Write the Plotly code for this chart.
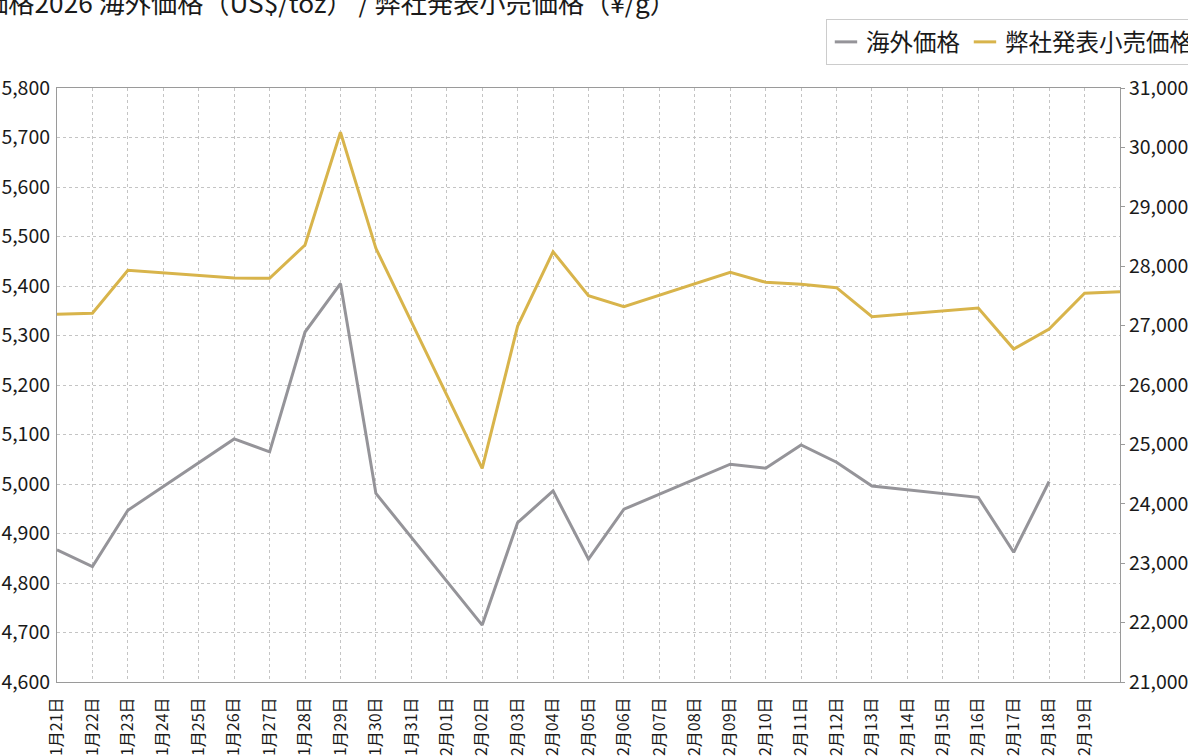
import plotly.graph_objects as go

# ---- data ----
dates = [
    "01月21日", "01月22日", "01月23日", "01月24日", "01月25日", "01月26日", "01月27日",
    "01月28日", "01月29日", "01月30日", "01月31日", "02月01日", "02月02日", "02月03日",
    "02月04日", "02月05日", "02月06日", "02月07日", "02月08日", "02月09日", "02月10日",
    "02月11日", "02月12日", "02月13日", "02月14日", "02月15日", "02月16日", "02月17日",
    "02月18日", "02月19日", "02月20日",
]
tick_labels = dates[:30]

# 海外価格 (US$/toz) - left axis
overseas = [
    4867, 4833, 4947, None, None, 5091, 5065,
    5307, 5405, 4981, None, None, 4715, 4922,
    4986, 4848, 4949, None, None, 5040, 5032,
    5079, 5044, 4996, None, None, 4973, 4862,
    5005, None, None,
]
# 弊社発表小売価格 (¥/g) - right axis
retail = [
    27190, 27207, 27931, None, None, 27801, 27796,
    28357, 30254, 28301, None, None, 24597, 26993,
    28244, 27504, 27318, None, None, 27897, 27729,
    27695, 27638, 27150, None, None, 27296, 26606,
    26943, 27544, 27571,
]

title_text = "金価格2026 海外価格（US$/toz） / 弊社発表小売価格（¥/g）"
name_overseas = "海外価格"
name_retail = "弊社発表小売価格"

FONT = "Noto Sans CJK JP"
GRAY = "#959499"
GOLD = "#d8b44b"
TXT = "#1a1a1a"

xpos = list(range(len(dates)))

fig = go.Figure()
fig.add_trace(go.Scatter(
    x=xpos, y=overseas, name=name_overseas, mode="lines", legendgroup="a",
    line=dict(color=GRAY, width=3), connectgaps=True, yaxis="y", showlegend=False,
    customdata=dates, hovertemplate="%{customdata}: %{y:,}<extra></extra>",
))
fig.add_trace(go.Scatter(
    x=xpos, y=retail, name=name_retail, mode="lines", legendgroup="b",
    line=dict(color=GOLD, width=3), connectgaps=True, yaxis="y2", showlegend=False,
    customdata=dates, hovertemplate="%{customdata}: %{y:,}<extra></extra>",
))
# legend entries (short line symbol like the reference)
for nm, col, grp in [(name_overseas, GRAY, "a"), (name_retail, GOLD, "b")]:
    fig.add_trace(go.Scatter(
        x=[None], y=[None], name=nm, mode="markers", legendgroup=grp,
        marker=dict(symbol="line-ew", size=16, color=col, line=dict(color=col, width=3)),
        showlegend=True, hoverinfo="skip",
    ))

fig.update_layout(
    width=1188, height=756,
    margin=dict(l=57, r=68, t=88, b=74, autoexpand=False),
    paper_bgcolor="white", plot_bgcolor="white",
    font=dict(family=FONT, size=19.5, color=TXT),
    showlegend=True,
    legend=dict(
        orientation="h", x=0.7234, xanchor="left", y=1.116, yanchor="top",
        bgcolor="white", bordercolor="#cccccc", borderwidth=1,
        font=dict(family=FONT, size=23.5, color=TXT),
    ),
    xaxis=dict(
        range=[0, 30], tickmode="array", tickvals=list(range(len(tick_labels))),
        ticktext=tick_labels, tickangle=-90, automargin=False,
        tickfont=dict(family=FONT, size=16, color=TXT),
        showgrid=True, gridcolor="#c4c4c4", gridwidth=1, griddash="3px,3px",
        showline=True, linecolor="#9a9a9a", linewidth=1, mirror=True,
        ticks="", ticklabelstandoff=8, zeroline=False,
    ),
    yaxis=dict(
        range=[4600, 5800], dtick=100, tick0=4600, tickformat=",d",
        showgrid=True, gridcolor="#c4c4c4", gridwidth=1, griddash="3px,3px",
        showline=True, linecolor="#9a9a9a", linewidth=1,
        ticks="", ticklabelstandoff=2, automargin=False,
        tickfont=dict(family=FONT, size=19.5, color=TXT), zeroline=False,
    ),
    yaxis2=dict(
        range=[21000, 31000], dtick=1000, tick0=21000, tickformat=",d",
        overlaying="y", side="right", showgrid=False,
        showline=True, linecolor="#9a9a9a", linewidth=1,
        ticks="outside", ticklen=4, tickcolor="#9a9a9a", automargin=False,
        tickfont=dict(family=FONT, size=19.5, color=TXT), zeroline=False,
    ),
    annotations=[dict(
        text=title_text, xref="paper", yref="paper",
        x=-0.0973, y=1.1446, xanchor="left", yanchor="middle", showarrow=False,
        font=dict(family=FONT, size=26.2, color=TXT),
    )],
)

fig.write_html(
    "out.html",
    config={"displayModeBar": False},
    post_script="document.body.style.margin='0';",
)
